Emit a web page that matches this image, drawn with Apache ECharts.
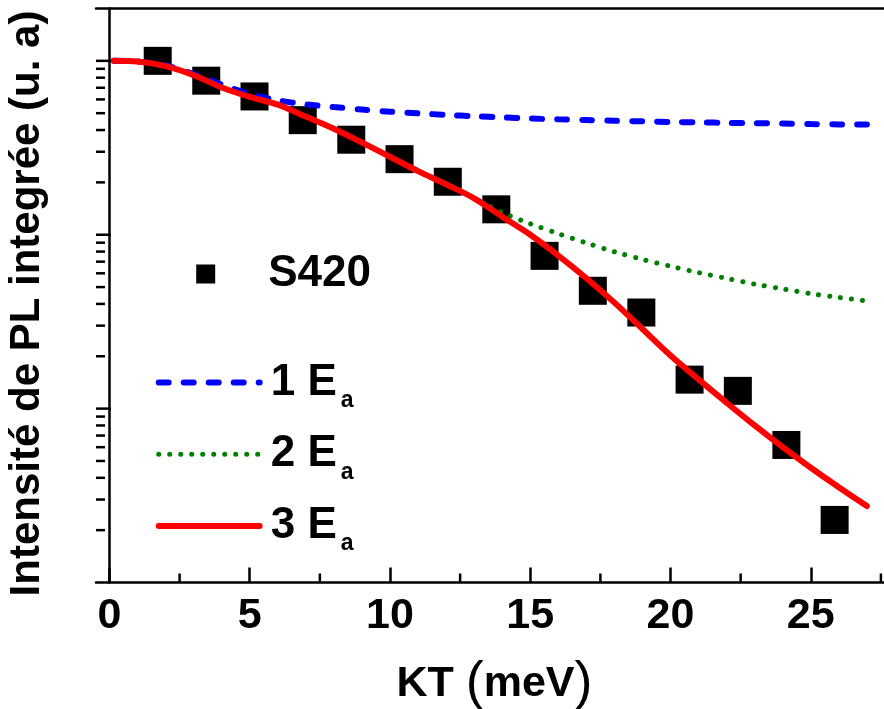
<!DOCTYPE html>
<html>
<head>
<meta charset="utf-8">
<script src="https://cdn.jsdelivr.net/npm/echarts@6/dist/echarts.min.js"></script>
<style>
html,body{margin:0;padding:0;background:#fff;}
#chart{width:884px;height:709px;}
</style>
</head>
<body>
<div id="chart"></div>
<script>
// ---- data ----
const kT = [1.72, 3.45, 5.17, 6.89, 8.62, 10.34, 12.06, 13.79, 15.51, 17.23, 18.96, 20.68, 22.40, 24.13, 25.85];
const s420 = [1.0, 0.769, 0.624, 0.456, 0.352, 0.272, 0.2017, 0.140, 0.0756, 0.0476, 0.0357, 0.01468, 0.01265, 0.00618, 0.00229];

const fitX = [0.15, 1, 2, 3, 4, 5, 6, 7, 8, 9, 10, 11, 12, 13, 14, 15, 16, 17, 18, 19, 20, 21, 22, 23, 24, 25, 26, 27];
const fit1Ea = [1.0, 0.991, 0.94, 0.84, 0.73, 0.645, 0.593, 0.562, 0.542, 0.525, 0.510, 0.499, 0.489, 0.480, 0.473, 0.466, 0.461, 0.457, 0.452, 0.449, 0.445, 0.443, 0.440, 0.438, 0.436, 0.433, 0.431, 0.430];
const fit2Ea = [1.0, 0.991, 0.933, 0.828, 0.703, 0.621, 0.560, 0.478, 0.407, 0.339, 0.281, 0.232, 0.195, 0.162, 0.134, 0.1156, 0.1014, 0.0897, 0.0798, 0.0721, 0.0659, 0.0605, 0.0561, 0.052, 0.0488, 0.0458, 0.0436, 0.0416];
const fit3Ea = [1.0, 0.991, 0.933, 0.828, 0.703, 0.621, 0.560, 0.478, 0.407, 0.339, 0.281, 0.232, 0.195, 0.162, 0.127, 0.100, 0.0759, 0.0562, 0.0407, 0.0287, 0.0202, 0.01472, 0.01081, 0.0080, 0.0060, 0.00457, 0.00353, 0.00275];

const xMajorTicks = [0, 5, 10, 15, 20, 25];
const xMinorTicks = [2.5, 7.5, 12.5, 17.5, 22.5, 27.5];
const yMajorTicks = [1, 0.1, 0.01];
const yMinorTicks = [0.9, 0.8, 0.7, 0.6, 0.5, 0.4, 0.3, 0.2,
                     0.09, 0.08, 0.07, 0.06, 0.05, 0.04, 0.03, 0.02,
                     0.009, 0.008, 0.007, 0.006, 0.005, 0.004, 0.003, 0.002];

const seriesNames = ['S420', '1 Ea', '2 Ea', '3 Ea'];
const xNameParts = ['KT ', '(', 'meV', ')'];
const yName = 'Intensité de PL integrée (u. a)';

// ---- chart ----
const X_MIN = -0.48, X_MAX = 27.61, Y_MIN = 0.001, Y_MAX = 2;
const FONT = '"Liberation Sans", Arial, sans-serif';

const chart = echarts.init(document.getElementById('chart'), null, {renderer: 'canvas'});

function zip(xs, ys) { return xs.map((x, i) => [x, ys[i]]); }

function tickSeries(data, dir) {
  return {
    type: 'custom',
    coordinateSystem: 'cartesian2d',
    silent: true,
    z: 10,
    clip: false,
    data: data,
    renderItem: function (params, api) {
      const p = api.coord([api.value(0), api.value(1)]);
      const len = api.value(2);
      const shape = dir === 'y'
        ? {x1: p[0], y1: p[1], x2: p[0] + len, y2: p[1]}
        : {x1: p[0], y1: p[1], x2: p[0], y2: p[1] - len};
      return {type: 'line', shape: shape, style: {stroke: '#000', lineWidth: 2.5}};
    }
  };
}

const yTickData = yMajorTicks.map(v => [X_MIN, v, 15]).concat(yMinorTicks.map(v => [X_MIN, v, 9]));
const xMinorData = xMinorTicks.map(v => [v, Y_MIN, 9]);

const lineColors = ['#0000ff', '#008000', '#ff0000'];
const lineStyles = [
  {color: lineColors[0], width: 6, type: [10, 15], cap: 'round'},
  {color: lineColors[1], width: 5, type: [0.1, 10.9], cap: 'round'},
  {color: lineColors[2], width: 6, type: 'solid', cap: 'round'}
];

const option = {
  animation: false,
  backgroundColor: '#ffffff',
  grid: {left: 96, right: 0, top: 8.5, bottom: 126.5, containLabel: false, outerBoundsMode: 'none'},
  xAxis: [{
    type: 'value',
    min: X_MIN, max: X_MAX,
    splitLine: {show: false},
    axisLine: {show: true, lineStyle: {color: '#000', width: 2.5}},
    axisTick: {show: true, inside: true, length: 15, customValues: xMajorTicks, lineStyle: {color: '#000', width: 2.5}},
    axisLabel: {customValues: xMajorTicks, color: '#000', fontSize: 43, fontWeight: 'bold', fontFamily: FONT, margin: 12},
    name: '{a|' + xNameParts[0] + '}{p|' + xNameParts[1] + '}{a|' + xNameParts[2] + '}{p|' + xNameParts[3] + '}',
    nameLocation: 'middle',
    nameGap: 75,
    nameTextStyle: {
      color: '#000', fontSize: 43, fontWeight: 'bold', fontFamily: FONT,
      padding: [0, 0, 0, 9],
      rich: {
        a: {fontSize: 43, fontWeight: 'bold', fontFamily: FONT, color: '#000'},
        p: {fontSize: 54, fontWeight: 'normal', fontFamily: FONT, color: '#000'}
      }
    }
  }, {
    type: 'value',
    position: 'top',
    min: X_MIN, max: X_MAX,
    splitLine: {show: false},
    axisLine: {show: true, onZero: false, lineStyle: {color: '#000', width: 2.5}},
    axisTick: {show: false},
    axisLabel: {show: false}
  }],
  yAxis: {
    type: 'log',
    logBase: 10,
    min: Y_MIN, max: Y_MAX,
    splitLine: {show: false},
    axisLine: {show: true, lineStyle: {color: '#000', width: 2.5}},
    axisTick: {show: false},
    axisLabel: {show: false},
    name: yName,
    nameLocation: 'middle',
    nameGap: 48,
    nameTextStyle: {color: '#000', fontSize: 42, fontWeight: 'bold', fontFamily: FONT, padding: [0, 16, 0, 0]}
  },
  legend: [{
    data: [{name: seriesNames[0], icon: 'rect'}],
    left: 196.2, top: 252,
    padding: 0,
    itemWidth: 19, itemHeight: 19,
    selectedMode: false,
    itemStyle: {color: '#000', opacity: 1, borderWidth: 0},
    formatter: n => '{m|' + n + '}',
    textStyle: {
      color: '#000', fontSize: 44, fontWeight: 'bold', fontFamily: FONT,
      rich: {m: {fontSize: 44, lineHeight: 44, fontWeight: 'bold', fontFamily: FONT, color: '#000', padding: [0, 0, 0, 48]}}
    }
  }, {
    data: seriesNames.slice(1).map((n, i) => ({name: n, lineStyle: lineStyles[i]})),
    orient: 'vertical',
    left: 155.7, top: 353,
    padding: 0,
    itemGap: 12.7,
    itemWidth: 101, itemHeight: 20,
    selectedMode: false,
    itemStyle: {opacity: 0},
    formatter: n => '{m|' + n.slice(0, -1) + '}{s|' + n.slice(-1) + '}',
    textStyle: {
      color: '#000', fontSize: 44, fontWeight: 'bold', fontFamily: FONT,
      rich: {
        m: {fontSize: 44, lineHeight: 44, fontWeight: 'bold', fontFamily: FONT, color: '#000', padding: [0, 0, 0, 6]},
        s: {fontSize: 23, lineHeight: 23, fontWeight: 'bold', fontFamily: FONT, color: '#000', padding: [36, 0, 0, 4]}
      }
    }
  }],
  series: [
    {
      name: seriesNames[0],
      type: 'scatter',
      symbol: 'rect',
      symbolSize: 28,
      itemStyle: {color: '#000', opacity: 1},
      z: 2,
      data: zip(kT, s420)
    },
    {
      name: seriesNames[1],
      type: 'line',
      symbol: 'none',
      smooth: 0.3,
      z: 3,
      lineStyle: lineStyles[0],
      itemStyle: {color: lineColors[0]},
      data: zip(fitX, fit1Ea)
    },
    {
      name: seriesNames[2],
      type: 'line',
      symbol: 'none',
      smooth: 0.3,
      z: 4,
      lineStyle: lineStyles[1],
      itemStyle: {color: lineColors[1]},
      data: zip(fitX, fit2Ea)
    },
    {
      name: seriesNames[3],
      type: 'line',
      symbol: 'none',
      smooth: 0.3,
      z: 5,
      lineStyle: lineStyles[2],
      itemStyle: {color: lineColors[2]},
      data: zip(fitX, fit3Ea)
    },
    tickSeries(yTickData, 'y'),
    tickSeries(xMinorData, 'x')
  ]
};

chart.setOption(option);
</script>
</body>
</html>
